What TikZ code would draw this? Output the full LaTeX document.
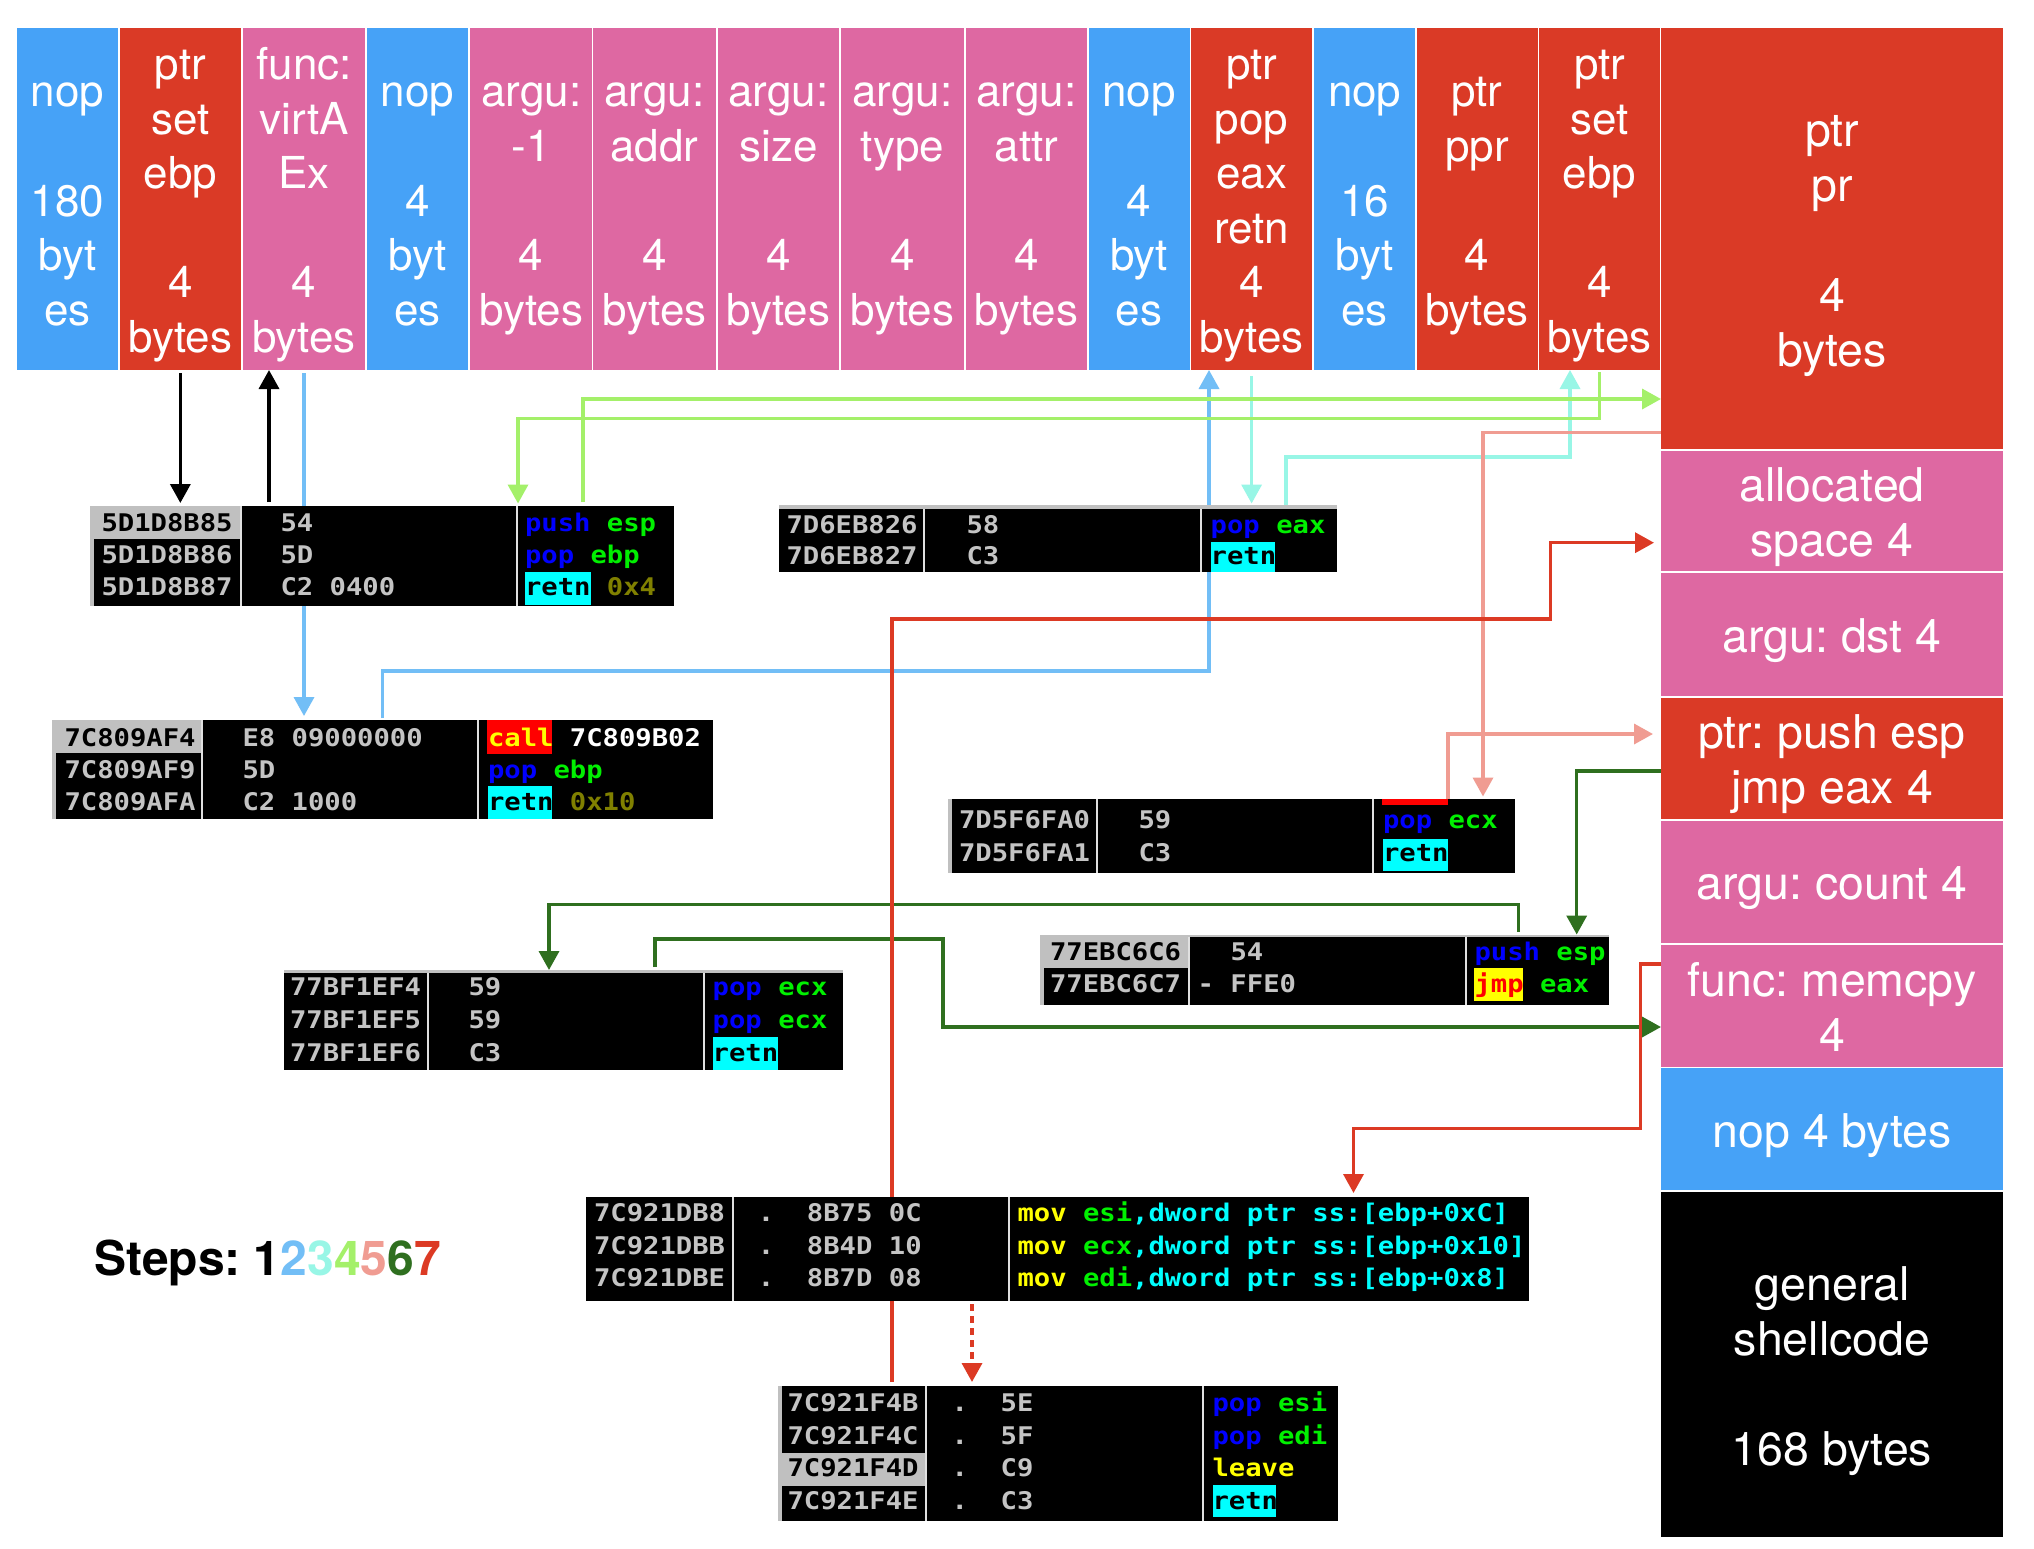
\documentclass[tikz,border=0pt]{standalone}
\usepackage{fontspec}
\setmainfont{TeX Gyre Heros}
\newfontfamily\ollyfont[FakeStretch=1.12]{DejaVu Sans Mono}
\usetikzlibrary{arrows.meta,backgrounds}
\definecolor{cBlue}{HTML}{46A2F7}
\definecolor{cRed}{HTML}{DA3A26}
\definecolor{cPink}{HTML}{DE68A2}
\definecolor{aBlue}{HTML}{72BEF6}
\definecolor{aAqua}{HTML}{98F6E6}
\definecolor{aLGreen}{HTML}{A4F06A}
\definecolor{aSalmon}{HTML}{F09C92}
\definecolor{aDGreen}{HTML}{2F6F1F}
\definecolor{aRed}{HTML}{DC3A24}
\definecolor{oGrey}{HTML}{C4C4C4}
\definecolor{oHi}{HTML}{C0C0C0}
\definecolor{oSep}{HTML}{E0E0E0}
\definecolor{oBlue}{HTML}{0000FF}
\definecolor{oGreen}{HTML}{00F000}
\definecolor{oOlive}{HTML}{808000}
\definecolor{oCyan}{HTML}{00FFFF}
\definecolor{oYellow}{HTML}{FFFF00}
\definecolor{oRed}{HTML}{FF0000}
\newcommand\barT{\rule{0pt}{44pt}}
\newcommand\barB{\rule[-10pt]{0pt}{10pt}}
\newcommand\rgtT{\rule{0pt}{46.5pt}}
\newcommand\rgtB{\rule[-10.5pt]{0pt}{10.5pt}}
\tikzset{
  barcol/.style={inner sep=0pt, outer sep=0pt, text=white, align=center,
     font=\frenchspacing\fontsize{44}{54.6}\selectfont, minimum height=342pt},
  rcol/.style={inner sep=0pt, outer sep=0pt, text=white, align=center,
     font=\frenchspacing\fontsize{46.5}{55}\selectfont, minimum width=342pt},
  obox/.style={fill=black, inner sep=0pt, outer sep=0pt, anchor=north west},
  otxt/.style={inner sep=0pt, outer sep=0pt, anchor=base west, text=oGrey,
     font=\frenchspacing\ollyfont\bfseries\fontsize{24.3}{30}\selectfont},
  osep/.style={draw=oSep, line width=2pt},
  conn/.style={line width=3.5pt, -{Triangle[width=20pt,length=19pt]}},
}
\newcommand\barnode[5]{\node[barcol, fill=#2, minimum width=#4pt] (#1) at (#3,199) {\barT #5\barB};}
\begin{document}
\frenchspacing
\begin{tikzpicture}[x=1pt,y=-1pt]
\useasboundingbox (0,0) rectangle (2034,1548);
% ---------- top bar ----------
\barnode{c1}{cBlue}{67.35}{101.3}{nop\\\mbox{}\\180\\byt\\es}
\barnode{c2}{cRed}{180.35}{120.7}{ptr\\set\\ebp\\\mbox{}\\4\\bytes}
\barnode{c3}{cPink}{304}{122}{func:\\virtA\\Ex\\\mbox{}\\4\\bytes}
\barnode{c4}{cBlue}{417.5}{101}{nop\\\mbox{}\\4\\byt\\es}
\barnode{c5}{cPink}{531.2}{121.6}{argu:\\-1\\\mbox{}\\4\\bytes}
\barnode{c6}{cPink}{654.55}{122.3}{argu:\\addr\\\mbox{}\\4\\bytes}
\barnode{c7}{cPink}{778.45}{121.7}{argu:\\size\\\mbox{}\\4\\bytes}
\barnode{c8}{cPink}{902.4}{123.6}{argu:\\type\\\mbox{}\\4\\bytes}
\barnode{c9}{cPink}{1026.4}{121.8}{argu:\\attr\\\mbox{}\\4\\bytes}
\barnode{c10}{cBlue}{1139.05}{100.9}{nop\\\mbox{}\\4\\byt\\es}
\barnode{c11}{cRed}{1251.6}{121.6}{ptr\\pop\\eax\\retn\\4\\bytes}
\barnode{c12}{cBlue}{1364.75}{100.9}{nop\\\mbox{}\\16\\byt\\es}
\barnode{c13}{cRed}{1477}{121}{ptr\\ppr\\\mbox{}\\4\\bytes}
\barnode{c14}{cRed}{1599.55}{121.7}{ptr\\set\\ebp\\\mbox{}\\4\\bytes}
% ---------- right column ----------
\node[rcol, fill=cRed, minimum height=421pt] (r1) at (1832,238.5) {\rgtT ptr\\pr\\\mbox{}\\4\\bytes\rgtB};
\node[rcol, fill=cPink, minimum height=120pt] (r2) at (1832,511) {\rgtT allocated\\space 4\rgtB};
\node[rcol, fill=cPink, minimum height=122.5pt] (r3) at (1832,634.25) {\rgtT argu: dst 4\rgtB};
\node[rcol, fill=cRed, minimum height=121.5pt] (r4) at (1832,758.25) {\rgtT ptr: push esp\\jmp eax 4\rgtB};
\node[rcol, fill=cPink, minimum height=121.5pt] (r5) at (1832,881.75) {\rgtT argu: count 4\rgtB};
\node[rcol, fill=cPink, minimum height=121.5pt] (r6) at (1832,1005.75) {\rgtT func: memcpy\\4\rgtB};
\node[rcol, fill=cBlue, minimum height=122pt] (r7) at (1832,1129) {\rgtT nop 4 bytes\rgtB};
\node[rcol, fill=black, minimum height=345pt] (r8) at (1832,1364.5) {\rgtT general\\shellcode\\\mbox{}\\168 bytes\rgtB};
% ---------- box A ----------
\node[obox, minimum width=584pt, minimum height=100pt] (bA) at (90,506) {};
\fill[oHi] (90,506) rectangle (94,606);
\fill[oHi] (90,506) rectangle (240,539);
\draw[osep] (240.5,506) -- (240.5,606);
\draw[osep] (516.5,506) -- (516.5,606);
\fill[oCyan] (525,572) rectangle (590.5,605);
\node[otxt, text=black] (bAa1) at (101.5,531.5) {5D1D8B85};
\node[otxt] (bAa2) at (101.5,563.3) {5D1D8B86};
\node[otxt] (bAa3) at (101.5,595.5) {5D1D8B87};
\node[otxt] (bAh1) at (280.5,531.5) {54};
\node[otxt] (bAh2) at (280.5,563.3) {5D};
\node[otxt] (bAh3) at (280.5,595.5) {C2 0400};
\node[otxt] (bAi1) at (525,531.5) {\color{oBlue}push \color{oGreen}esp};
\node[otxt] (bAi2) at (525,563.3) {\color{oBlue}pop \color{oGreen}ebp};
\node[otxt] (bAi3) at (525,595.5) {\color{black}retn \color{oOlive}0x4};
% ---------- box B ----------
\node[obox, minimum width=661pt, minimum height=99pt] (bB) at (52,720) {};
\fill[oHi] (52,720) rectangle (56,819);
\fill[oHi] (52,720) rectangle (201,753);
\draw[osep] (202,720) -- (202,819);
\draw[osep] (478,720) -- (478,819);
\fill[oRed] (487,720) rectangle (552,754);
\fill[oCyan] (487.6,786) rectangle (552,819);
\node[otxt, text=black] (bBa1) at (64.5,746.6) {7C809AF4};
\node[otxt] (bBa2) at (64.5,778.4) {7C809AF9};
\node[otxt] (bBa3) at (64.5,810.9) {7C809AFA};
\node[otxt] (bBh1) at (242.5,746.6) {E8 09000000};
\node[otxt] (bBh2) at (242.5,778.4) {5D};
\node[otxt] (bBh3) at (242.5,810.9) {C2 1000};
\node[otxt] (bBi1) at (488,746.6) {\color{oYellow}call \color{white}7C809B02};
\node[otxt] (bBi2) at (488,778.4) {\color{oBlue}pop \color{oGreen}ebp};
\node[otxt] (bBi3) at (488,810.9) {\color{black}retn \color{oOlive}0x10};
% ---------- box C ----------
\node[obox, minimum width=558pt, minimum height=67pt] (bC) at (779,505) {};
\fill[oHi] (779,505) rectangle (1337,509);
\draw[osep] (924,509) -- (924,572);
\draw[osep] (1201,509) -- (1201,572);
\fill[oCyan] (1210.7,541.7) rectangle (1275.3,572);
\node[otxt] (bCa1) at (786.5,533.9) {7D6EB826};
\node[otxt] (bCa2) at (786.5,564.9) {7D6EB827};
\node[otxt] (bCh1) at (966.5,533.9) {58};
\node[otxt] (bCh2) at (966.5,564.9) {C3};
\node[otxt] (bCi1) at (1210.7,533.9) {\color{oBlue}pop \color{oGreen}eax};
\node[otxt, text=black] (bCi2) at (1210.7,564.9) {retn};
% ---------- box D ----------
\node[obox, minimum width=567pt, minimum height=73.5pt] (bD) at (948,799) {};
\fill[oHi] (948,799) rectangle (952,872.5);
\draw[osep] (1097,799) -- (1097,872.5);
\draw[osep] (1373,799) -- (1373,872.5);
\fill[oRed] (1382,799) rectangle (1448,805);
\fill[oCyan] (1383,838.6) rectangle (1448,871);
\node[otxt] (bDa1) at (959,828.9) {7D5F6FA0};
\node[otxt] (bDa2) at (959,861.9) {7D5F6FA1};
\node[otxt] (bDh1) at (1138.5,828.9) {59};
\node[otxt] (bDh2) at (1138.5,861.9) {C3};
\node[otxt] (bDi1) at (1383,828.9) {\color{oBlue}pop \color{oGreen}ecx};
\node[otxt, text=black] (bDi2) at (1383,861.9) {retn};
% ---------- box E ----------
\node[obox, minimum width=569pt, minimum height=70.5pt] (bE) at (1040,934.5) {};
\fill[oHi] (1040,934.5) rectangle (1609,937);
\fill[oHi] (1040,934.5) rectangle (1044,1005);
\fill[oHi] (1040,934.5) rectangle (1188,968);
\draw[osep] (1188.5,937) -- (1188.5,1005);
\draw[osep] (1465.5,937) -- (1465.5,1005);
\fill[oYellow] (1474.3,968.3) rectangle (1523.3,1000.7);
\node[otxt, text=black] (bEa1) at (1050,960.4) {77EBC6C6};
\node[otxt] (bEa2) at (1050,992.6) {77EBC6C7};
\node[otxt] (bEh1) at (1230.5,960.4) {54};
\node[otxt] (bEh2) at (1197.7,992.6) {- FFE0};
\node[otxt] (bEi1) at (1474.5,960.4) {\color{oBlue}push \color{oGreen}esp};
\node[otxt] (bEi2) at (1474.5,992.6) {\color{oRed}jmp \color{oGreen}eax};
% ---------- box F ----------
\node[obox, minimum width=559pt, minimum height=100pt] (bF) at (284,970) {};
\fill[oHi] (284,970) rectangle (843,972.5);
\draw[osep] (427.5,972.5) -- (427.5,1070);
\draw[osep] (704,972.5) -- (704,1070);
\fill[oCyan] (712.7,1037) rectangle (777.5,1070);
\node[otxt] (bFa1) at (290,995.9) {77BF1EF4};
\node[otxt] (bFa2) at (290,1028.9) {77BF1EF5};
\node[otxt] (bFa3) at (290,1061.9) {77BF1EF6};
\node[otxt] (bFh1) at (468.5,995.9) {59};
\node[otxt] (bFh2) at (468.5,1028.9) {59};
\node[otxt] (bFh3) at (468.5,1061.9) {C3};
\node[otxt] (bFi1) at (712.7,995.9) {\color{oBlue}pop \color{oGreen}ecx};
\node[otxt] (bFi2) at (712.7,1028.9) {\color{oBlue}pop \color{oGreen}ecx};
\node[otxt, text=black] (bFi3) at (712.7,1061.9) {retn};
% ---------- box G ----------
\node[obox, minimum width=943pt, minimum height=104pt] (bG) at (586,1197) {};
\draw[osep] (732.5,1197) -- (732.5,1301);
\draw[osep] (1009,1197) -- (1009,1301);
\node[otxt] (bGa1) at (594,1221.7) {7C921DB8};
\node[otxt] (bGa2) at (594,1254.2) {7C921DBB};
\node[otxt] (bGa3) at (594,1286.9) {7C921DBE};
\node[otxt] (bGh1) at (757.8,1221.7) {.\ \ 8B75 0C};
\node[otxt] (bGh2) at (757.8,1254.2) {.\ \ 8B4D 10};
\node[otxt] (bGh3) at (757.8,1286.9) {.\ \ 8B7D 08};
\node[otxt] (bGi1) at (1017.5,1221.7) {\color{oYellow}mov \color{oGreen}esi\color{oCyan},dword ptr ss:[ebp+0xC]};
\node[otxt] (bGi2) at (1017.5,1254.2) {\color{oYellow}mov \color{oGreen}ecx\color{oCyan},dword ptr ss:[ebp+0x10]};
\node[otxt] (bGi3) at (1017.5,1286.9) {\color{oYellow}mov \color{oGreen}edi\color{oCyan},dword ptr ss:[ebp+0x8]};
% ---------- box H ----------
\node[obox, minimum width=560.5pt, minimum height=135pt] (bH) at (777.5,1386) {};
\fill[oHi] (777.5,1386) rectangle (781.5,1521);
\fill[oHi] (777.5,1453) rectangle (925,1486);
\draw[osep] (925.5,1386) -- (925.5,1521);
\draw[osep] (1202.5,1386) -- (1202.5,1521);
\fill[oCyan] (1212.5,1485) rectangle (1276,1517);
\node[otxt] (bHa1) at (787.5,1411.7) {7C921F4B};
\node[otxt] (bHa2) at (787.5,1444.2) {7C921F4C};
\node[otxt, text=black] (bHa3) at (787.5,1476.7) {7C921F4D};
\node[otxt] (bHa4) at (787.5,1509.4) {7C921F4E};
\node[otxt] (bHh1) at (951.5,1411.7) {.\ \ 5E};
\node[otxt] (bHh2) at (951.5,1444.2) {.\ \ 5F};
\node[otxt] (bHh3) at (951.5,1476.7) {.\ \ C9};
\node[otxt] (bHh4) at (951.5,1509.4) {.\ \ C3};
\node[otxt] (bHi1) at (1212.5,1411.7) {\color{oBlue}pop \color{oGreen}esi};
\node[otxt] (bHi2) at (1212.5,1444.2) {\color{oBlue}pop \color{oGreen}edi};
\node[otxt, text=oYellow] (bHi3) at (1212.5,1476.7) {leave};
\node[otxt, text=black] (bHi4) at (1212.5,1509.4) {retn};
% ---------- steps ----------
\node[inner sep=0pt, anchor=base west, font=\frenchspacing\bfseries\fontsize{48}{56}\selectfont] (steps) at (94,1275)
  {Steps: 1\textcolor{aBlue}{2}\textcolor{aAqua}{3}\textcolor{aLGreen}{4}\textcolor{aSalmon}{5}\textcolor{aDGreen}{6}\textcolor{aRed}{7}};
% ---------- connectors ----------
\begin{pgfonlayer}{background}
\fill[white] (0,0) rectangle (2034,1548);
% step 1
\draw[conn, black, shorten <=3pt, shorten >=3pt] (c2.south) -- ([xshift=-201.65pt]bA.north);
\draw[conn, black, shorten <=4pt] ([xshift=-113pt]bA.north) -- ([xshift=-35pt]c3.south);
% step 2
\draw[conn, aBlue, shorten <=3pt, shorten >=4pt] (c3.south) -- ([xshift=-78.5pt]bB.north);
\draw[conn, aBlue, shorten <=2pt] (bB.north) -- ++(0,-49) -| ([xshift=-42.6pt]c11.south);
% step 3
\draw[conn, aAqua, shorten <=6pt, shorten >=1.5pt] (c11.south) -- ([xshift=193.6pt]bC.north);
\draw[conn, aAqua] ([xshift=228pt]bC.north) -- ++(0,-48) -| ([xshift=-29.55pt]c14.south);
% step 4
\draw[conn, aLGreen, shorten <=2pt, shorten >=2.5pt] (c14.south) -- ++(0,48.6) -| ([xshift=136pt]bA.north);
\draw[conn, aLGreen, shorten <=4pt] ([xshift=201pt]bA.north) |- ([yshift=-160.5pt]r1.west);
% step 5
\draw[conn, aSalmon, shorten >=2.5pt] ([yshift=-194.2pt]r1.west) -| ([xshift=251.5pt]bD.north);
\draw[conn, aSalmon, shorten >=8pt] ([xshift=216.5pt]bD.north) |- ([yshift=24.25pt]r4.west);
% step 6
\draw[conn, aDGreen] ([yshift=-12.75pt]r4.west) -| ([xshift=252.2pt]bE.north);
\draw[conn, aDGreen, shorten <=3pt] ([xshift=194.2pt]bE.north) -- ++(0,-30) -| ([xshift=-14.5pt]bF.north);
\draw[conn, aDGreen, shorten <=3pt] ([xshift=91.5pt]bF.north) -- ++(0,-31) -- ++(288,0) |- ([yshift=-21.25pt]r6.west);
% step 7
\draw[conn, aRed, shorten >=4pt] ([yshift=41.75pt]r6.west) -- ++(-20.3,0) -- ++(0,164.7) -| ([xshift=296pt]bG.north);
\draw[conn, aRed, shorten <=4pt, shorten >=7pt] ([xshift=-165.75pt]bH.north) -- ++(0,-767) -- ++(658.5,0) |- ([yshift=-31.7pt]r2.west);
\draw[conn, aRed, dash pattern=on 7pt off 5pt, shorten <=3pt, shorten >=4pt] ([xshift=-85.5pt]bG.south) -- ([xshift=-85.75pt]bH.north);
\end{pgfonlayer}
\end{tikzpicture}
\end{document}
